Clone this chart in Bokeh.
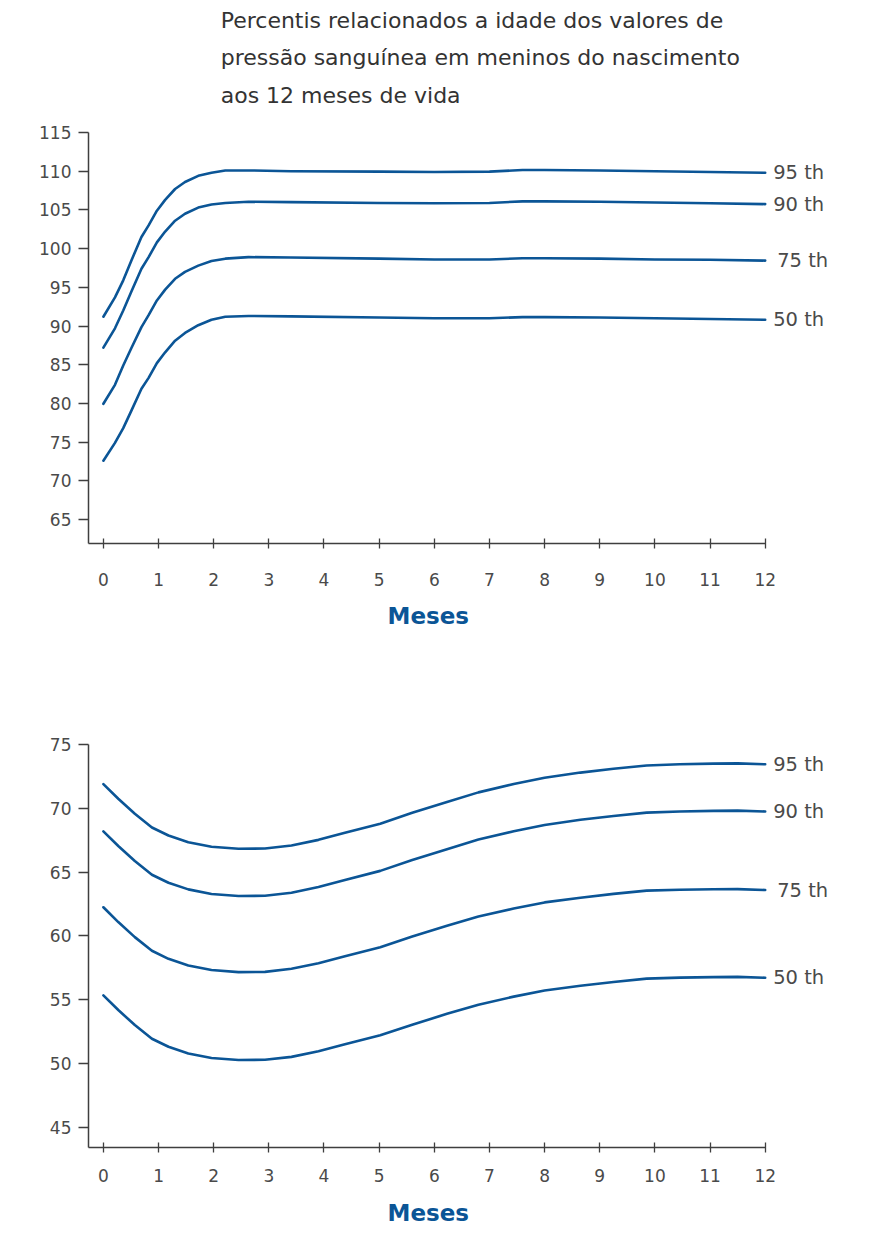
from bokeh.plotting import figure
from bokeh.models import FixedTicker, ColumnDataSource, Title
from bokeh.layouts import column
from bokeh.embed import file_html
from bokeh.resources import INLINE
from bokeh.core.properties import value

# ---------------- data ----------------
title_lines = [
    "Percentis relacionados a idade dos valores de",
    "pressão sanguínea em meninos do nascimento",
    "aos 12 meses de vida",
]
x_label = "Meses"
month_ticks = list(range(0, 13))
percentile_labels = ["95 th", "90 th", "75 th", "50 th"]

# top chart (systolic)
sys_months = [0, 0.21, 0.36, 0.51, 0.69, 0.82, 0.97, 1.12, 1.30, 1.48, 1.72, 1.96, 2.21, 2.63,
              3.4, 5, 6, 7, 7.6, 8, 9, 10, 11, 12]
sys_p95 = [91.2, 93.7, 95.9, 98.5, 101.5, 103.0, 104.9, 106.3, 107.7, 108.6, 109.4, 109.8, 110.1, 110.1,
           110.0, 109.95, 109.9, 109.95, 110.15, 110.15, 110.1, 110.0, 109.9, 109.8]
sys_p90 = [87.2, 89.7, 92.0, 94.5, 97.4, 98.9, 100.8, 102.2, 103.6, 104.5, 105.3, 105.7, 105.9, 106.05,
           106.0, 105.9, 105.85, 105.9, 106.1, 106.1, 106.05, 105.95, 105.85, 105.75]
sys_p75 = [79.95, 82.4, 84.9, 87.2, 89.85, 91.4, 93.3, 94.7, 96.1, 97.0, 97.8, 98.4, 98.7, 98.9,
           98.85, 98.7, 98.6, 98.6, 98.75, 98.75, 98.7, 98.6, 98.55, 98.45]
sys_p50 = [72.6, 74.9, 76.8, 79.1, 81.9, 83.3, 85.2, 86.6, 88.1, 89.1, 90.1, 90.8, 91.2, 91.3,
           91.25, 91.1, 91.0, 91.0, 91.15, 91.15, 91.1, 91.0, 90.9, 90.8]
sys_yticks = [65, 70, 75, 80, 85, 90, 95, 100, 105, 110, 115]

# bottom chart (diastolic)
dia_months = [0, 0.27, 0.57, 0.88, 1.18, 1.54, 1.96, 2.45, 2.93, 3.41, 3.90, 4.38, 5.02, 5.6,
              6.23, 6.8, 7.44, 8.0, 8.65, 9.25, 9.85, 10.45, 11.06, 11.5, 12]
dia_p95 = [71.9, 70.75, 69.57, 68.5, 67.87, 67.35, 66.99, 66.83, 66.85, 67.09, 67.53, 68.08, 68.8, 69.65,
           70.5, 71.25, 71.9, 72.4, 72.8, 73.1, 73.36, 73.45, 73.5, 73.52, 73.45]
dia_p90 = [68.2, 67.05, 65.87, 64.8, 64.17, 63.65, 63.29, 63.13, 63.15, 63.39, 63.83, 64.38, 65.1, 65.95,
           66.8, 67.55, 68.2, 68.7, 69.1, 69.4, 69.66, 69.75, 69.8, 69.82, 69.75]
dia_p75 = [62.25, 61.09, 59.91, 58.84, 58.21, 57.69, 57.33, 57.17, 57.19, 57.43, 57.87, 58.42, 59.12, 59.96,
           60.8, 61.52, 62.15, 62.63, 63.0, 63.3, 63.55, 63.62, 63.66, 63.67, 63.6]
dia_p50 = [55.35, 54.2, 53.02, 51.95, 51.32, 50.8, 50.44, 50.28, 50.3, 50.53, 50.97, 51.52, 52.22, 53.05,
           53.9, 54.62, 55.25, 55.73, 56.1, 56.4, 56.66, 56.74, 56.78, 56.8, 56.73]
dia_yticks = [45, 50, 55, 60, 65, 70, 75]

# ---------------- style ----------------
BLUE = "#0b5596"
AXIS = "#3f3f3f"
TXT = "#4a4a4a"
FONT = "DejaVu Sans"
label_extra_offset = {"75 th": 4}
HEADER_H = 120


def make_fig(height, top, bottom, y_range, yticks, months, series, tick_standoff, label_standoff):
    p = figure(width=875, height=height, x_range=(-0.27, 14.0), y_range=y_range,
               output_backend="svg", toolbar_location=None,
               min_border_left=88, min_border_right=0,
               min_border_top=top, min_border_bottom=bottom)
    p.outline_line_color = None
    p.grid.visible = False
    p.background_fill_color = "white"
    p.border_fill_color = "white"

    xa = p.xaxis[0]
    xa.ticker = FixedTicker(ticks=month_ticks)
    xa.bounds = (-0.27, 12)
    xa.axis_line_color = AXIS
    xa.axis_line_width = 1.5
    xa.major_tick_line_color = AXIS
    xa.major_tick_line_width = 1.3
    xa.major_tick_in = 5
    xa.major_tick_out = 5
    xa.minor_tick_line_color = None
    xa.major_label_standoff = tick_standoff
    xa.major_label_text_font = FONT
    xa.major_label_text_font_size = "17px"
    xa.major_label_text_color = TXT

    ya = p.yaxis[0]
    ya.ticker = FixedTicker(ticks=yticks)
    ya.axis_line_color = AXIS
    ya.axis_line_width = 1.5
    ya.major_tick_line_color = AXIS
    ya.major_tick_line_width = 1.3
    ya.major_tick_in = 0
    ya.major_tick_out = 10
    ya.minor_tick_line_color = None
    ya.major_label_standoff = 7
    ya.major_label_text_font = FONT
    ya.major_label_text_font_size = "17px"
    ya.major_label_text_color = TXT

    # "Meses", centred under the drawn part of the month axis (0..12)
    p.add_layout(Title(text=x_label, align="left", offset=299, text_font=FONT,
                       text_font_size="23px", text_font_style="bold", text_color=BLUE,
                       standoff=label_standoff), "below")

    for vals, lab in zip(series, percentile_labels):
        p.line(months, vals, line_color=BLUE, line_width=2.6, line_join="round", line_cap="round")
        src = ColumnDataSource(dict(x=[months[-1]], y=[vals[-1]], t=[lab]))
        p.text("x", "y", text="t", source=src, x_offset=8 + label_extra_offset.get(lab, 0),
               text_baseline="middle", text_align="left", text_font=value(FONT),
               text_font_size="19.5px", text_color=TXT)
    return p


# header with the three title lines (drawn in a plain text panel)
header = figure(width=875, height=HEADER_H, x_range=(0, 875), y_range=(0, HEADER_H),
                output_backend="svg", toolbar_location=None, x_axis_type=None, y_axis_type=None,
                min_border=0)
header.outline_line_color = None
header.grid.visible = False
hsrc = ColumnDataSource(dict(x=[147, 147, 147],
                             y=[HEADER_H - 20, HEADER_H - 57, HEADER_H - 95],
                             t=title_lines))
header.text("x", "y", text="t", source=hsrc, text_align="left", text_baseline="middle",
            text_font=value(FONT), text_font_size="22px", text_color="#333333")

top = make_fig(668 - HEADER_H, 132 - HEADER_H, 125, (61.9, 115), sys_yticks, sys_months,
               [sys_p95, sys_p90, sys_p75, sys_p50], 24, 25)

bottom = make_fig(574, 76, 95, (43.43, 75), dia_yticks, dia_months,
                  [dia_p95, dia_p90, dia_p75, dia_p50], 16, 27)

layout = column(header, top, bottom, spacing=0)
open("out.html", "w").write(file_html(layout, INLINE))
